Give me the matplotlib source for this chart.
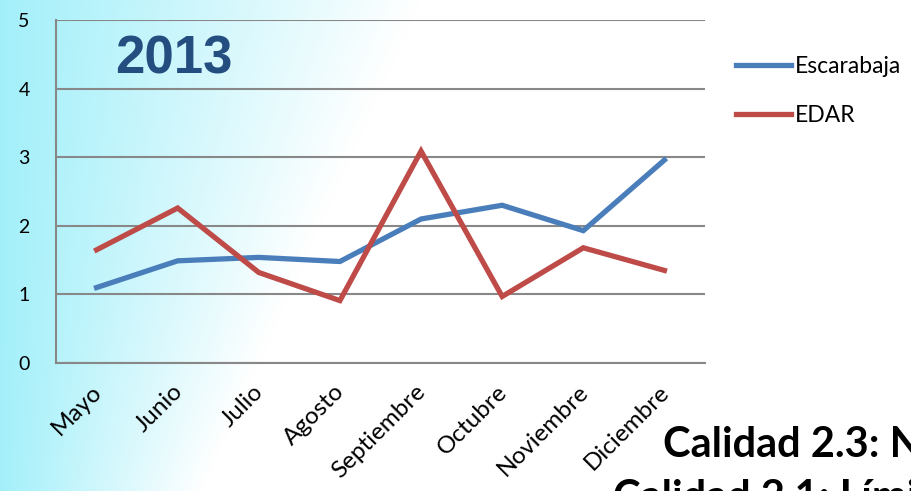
import numpy as np
import matplotlib
matplotlib.use("Agg")
import matplotlib.pyplot as plt
import matplotlib.transforms as mtransforms

months = ['Mayo', 'Junio', 'Julio', 'Agosto', 'Septiembre', 'Octubre', 'Noviembre', 'Diciembre']
escarabaja = [1.10, 1.49, 1.54, 1.48, 2.10, 2.30, 1.93, 2.96]
edar = [1.65, 2.26, 1.32, 0.91, 3.09, 0.97, 1.68, 1.35]
yticks = [0, 1, 2, 3, 4, 5]

plt.rcParams['font.family'] = ['Lato', 'DejaVu Sans']

fig = plt.figure(figsize=(9.12, 4.91), dpi=100)

# light cyan wash on the left side of the slide, reaching further at the top
bg = fig.add_axes([0, 0, 1, 1], zorder=-10)
xx = np.linspace(0, 1, 400)
yy = np.linspace(0, 1, 200)
X, Y = np.meshgrid(xx, yy)
t = np.clip(X / (0.46 - 0.24 * Y), 0, 1)
c0 = np.array([0.64, 0.94, 0.98])
c1 = np.array([1.0, 1.0, 1.0])
img = c0[None, None, :] * (1 - t[..., None]) + c1[None, None, :] * t[..., None]
bg.imshow(img, aspect='auto', extent=[0, 1, 0, 1], origin='upper')
bg.axis('off')

ax = fig.add_axes([0.0614, 0.2607, 0.7116, 0.6983])
ax.patch.set_alpha(0)

x = np.arange(len(months))
ax.plot(x, escarabaja, color='#4A7EBB', lw=3.8, label='Escarabaja', solid_joinstyle='miter')
ax.plot(x, edar, color='#BE4B48', lw=3.8, label='EDAR', solid_joinstyle='miter')

ax.set_xlim(-0.5, len(months) - 0.5)
ax.set_ylim(0, 5)
ax.set_yticks(yticks)
ax.set_yticklabels([str(v) for v in yticks], fontsize=14)
ax.yaxis.grid(True, color='#888888', lw=1.5)
ax.set_axisbelow(True)
ax.tick_params(axis='both', length=0)
ax.tick_params(axis='y', pad=19)
ax.set_xticks(x)
ax.set_xticklabels(months, rotation=45, ha='right', va='top', rotation_mode='anchor', fontsize=17.5)
ax.tick_params(axis='x', pad=13)
# nudge the slanted month names a little to the left
shift = mtransforms.ScaledTranslation(-6 / 100, 0, fig.dpi_scale_trans)
for lab in ax.get_xticklabels():
    lab.set_transform(lab.get_transform() + shift)

for s in ['top', 'right']:
    ax.spines[s].set_visible(False)
ax.spines['left'].set_color('#888888')
ax.spines['bottom'].set_color('#888888')
ax.spines['left'].set_linewidth(1.5)
ax.spines['bottom'].set_linewidth(1.5)

ax.text(0.091, 0.845, '2013', transform=ax.transAxes, fontsize=38, fontweight='bold',
        color='#254E80', va='baseline', family=['Liberation Sans', 'DejaVu Sans'])

leg = fig.legend(loc='upper left', bbox_to_anchor=(0.797, 0.905), frameon=False,
                 fontsize=16.5, handlelength=2.4, handletextpad=0.15, labelspacing=1.25,
                 borderaxespad=0)

fig.text(0.727, 0.069, 'Calidad 2.3: Normas', fontsize=30, fontweight='bold', color='black')
fig.text(0.672, -0.039, 'Calidad 2.1: Límites', fontsize=30, fontweight='bold', color='black')

fig.savefig('out.png', dpi=100)
